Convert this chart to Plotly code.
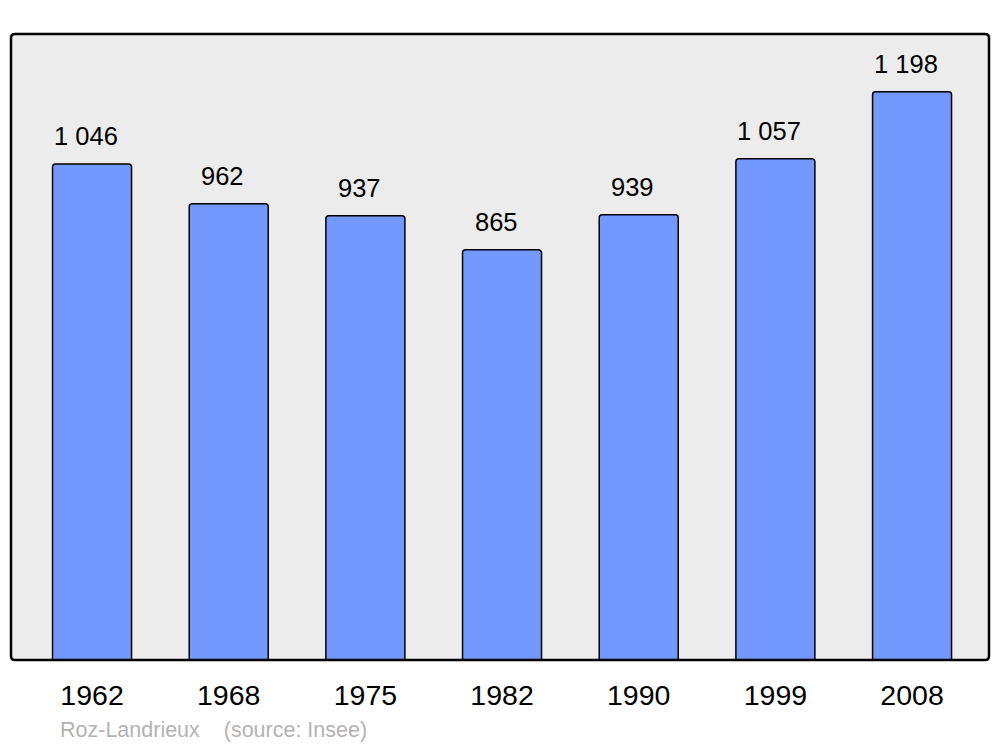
import plotly.graph_objects as go

years = ["1962", "1968", "1975", "1982", "1990", "1999", "2008"]
population = [1046, 962, 937, 865, 939, 1057, 1198]
footer = "Roz-Landrieux    (source: Insee)"

# page body has an 8px margin; compensate so plot area lands at x 11-989, y 34-660
OFF = 8
W, H = 1000 - OFF, 747 - OFF
ml, mr, mt, mb = 11 - OFF, 11, 34 - OFF, 87
pw, ph = W - ml - mr, H - mt - mb

fig = go.Figure()
fig.add_trace(go.Bar(
    x=years, y=population, width=0.578,
    marker=dict(color="#7399ff", line=dict(color="#000000", width=1.5), cornerradius=3),
    hoverinfo="skip",
))

for i, v in enumerate(population):
    fig.add_annotation(
        x=i, y=v, xref="x", yref="y", text=f"{v:,}".replace(",", " "),
        showarrow=False, yanchor="bottom", yshift=12, xshift=-6,
        font=dict(family="Liberation Sans, Arial, sans-serif", size=25.5, color="#000000"),
    )

fig.add_annotation(
    x=(58 - 11) / pw, y=(660 - 730) / ph, xref="paper", yref="paper",
    text=footer.replace("    ", "&nbsp;&nbsp;&nbsp;&nbsp;"), showarrow=False,
    xanchor="left", yanchor="middle",
    font=dict(family="Liberation Sans, Arial, sans-serif", size=21.5, color="#b3b3b3"),
)

# rounded border around plot area
rx, ry = 4 / pw, 4 / ph
path = (f"M {rx},0 L {1-rx},0 Q 1,0 1,{ry} L 1,{1-ry} Q 1,1 {1-rx},1 "
        f"L {rx},1 Q 0,1 0,{1-ry} L 0,{ry} Q 0,0 {rx},0 Z")
fig.add_shape(type="path", path=path, xref="paper", yref="paper",
              line=dict(color="#000000", width=2.5), layer="above")

fig.update_layout(
    width=W, height=H,
    margin=dict(l=ml, r=mr, t=mt, b=mb),
    paper_bgcolor="#ffffff", plot_bgcolor="#ececec",
    showlegend=False,
    font=dict(family="Liberation Sans, Arial, sans-serif", color="#000000"),
    xaxis=dict(type="category", range=[-0.593, 6.563], showgrid=False, zeroline=False,
               showline=False, ticks="", tickfont=dict(size=28.5), ticklabelstandoff=15),
    yaxis=dict(range=[0, 1320], showgrid=False, zeroline=False, showticklabels=False,
               showline=False, ticks=""),
)

fig.write_html("out.html")
